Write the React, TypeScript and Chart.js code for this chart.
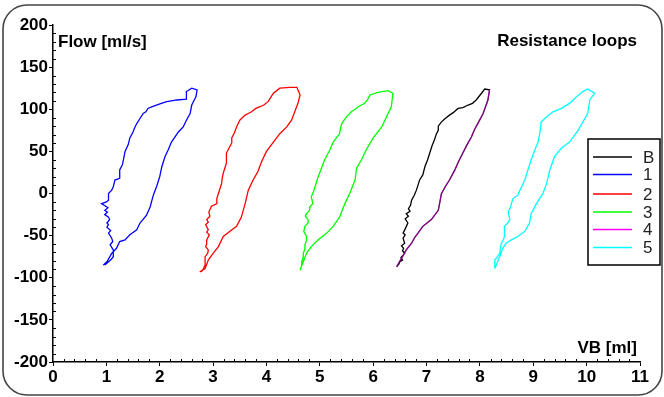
import React, { useEffect, useRef } from "react";
import { Chart, registerables } from "chart.js";

Chart.register(...registerables);

const xTickLabels = ["0", "1", "2", "3", "4", "5", "6", "7", "8", "9", "10", "11"];
const yTickLabels = ["-200", "-150", "-100", "-50", "0", "50", "100", "150", "200"];

const seriesNames = ["B", "1", "2", "3", "4", "5"];
const seriesColors = ["#000000", "#0000ff", "#ff0000", "#00ff00", "#ff00ff", "#00ffff"];

const loopB: [number, number][] = [
  [6.44, -87], [6.48, -84], [6.5, -81], [6.55, -79], [6.52, -76], [6.59, -71], [6.55, -68], [6.57, -65], [6.53, -62],
  [6.59, -59], [6.56, -53], [6.6, -49], [6.56, -47], [6.6, -42], [6.65, -35], [6.6, -30], [6.66, -27], [6.62, -24],
  [6.69, -21], [6.66, -18], [6.7, -14], [6.72, -8], [6.77, -2], [6.81, 4], [6.84, 10], [6.87, 16], [6.93, 22],
  [6.97, 32], [7.02, 40], [7.06, 48], [7.1, 56], [7.15, 64], [7.18, 70], [7.22, 75], [7.22, 80], [7.28, 85],
  [7.35, 89], [7.43, 93], [7.5, 96], [7.59, 101], [7.68, 102], [7.78, 105], [7.86, 107], [7.93, 111],
  [8.03, 119], [8.09, 124], [8.18, 123], [8.15, 111], [8.06, 95], [7.96, 83], [7.9, 76], [7.84, 67],
  [7.76, 58], [7.68, 48], [7.6, 38], [7.53, 28], [7.43, 16], [7.35, 8], [7.28, 0], [7.25, -10], [7.22, -20],
  [7.09, -31], [6.93, -39], [6.84, -47], [6.78, -52], [6.72, -59], [6.62, -67], [6.53, -77], [6.44, -87],
];

const loop1: [number, number][] = [
  [0.97, -85], [1.04, -81], [1.08, -79], [1.13, -75], [1.13, -67], [1.07, -61], [1.12, -57], [1.1, -53], [1.04, -47],
  [1.08, -44], [1.01, -40], [1.04, -37], [1.01, -35], [1.06, -31], [1.04, -28], [0.97, -25], [1.02, -22],
  [0.97, -20], [1.03, -17], [1.01, -16], [0.91, -12], [1.0, -10], [1.04, -8], [1.04, 0], [1.1, 4], [1.13, 8],
  [1.16, 16], [1.25, 18], [1.25, 28], [1.3, 34], [1.32, 40], [1.35, 50], [1.41, 58], [1.44, 66], [1.5, 73],
  [1.53, 78], [1.57, 83], [1.63, 89], [1.69, 95], [1.74, 97], [1.78, 101], [1.86, 103], [1.94, 105],
  [2.03, 107], [2.13, 109], [2.22, 110], [2.32, 111], [2.5, 112], [2.5, 121], [2.6, 125], [2.7, 123],
  [2.68, 115], [2.6, 105], [2.57, 95], [2.5, 87], [2.44, 79], [2.35, 73], [2.22, 61], [2.16, 52], [2.1, 44],
  [2.04, 32], [2.0, 20], [1.94, 8], [1.88, -2], [1.82, -16], [1.75, -26], [1.63, -35], [1.57, -43],
  [1.44, -49], [1.35, -55], [1.25, -57], [1.19, -65], [1.1, -71], [1.01, -81], [0.94, -85],
];

const loop2: [number, number][] = [
  [2.78, -93], [2.82, -89], [2.85, -85], [2.85, -75], [2.9, -71], [2.91, -67], [2.86, -63], [2.88, -60],
  [2.88, -55], [2.93, -49], [2.88, -46], [2.91, -43], [2.86, -37], [2.91, -34], [2.88, -31], [2.94, -27],
  [2.92, -22], [2.97, -15], [3.07, -12], [3.07, -6], [3.1, 0], [3.16, 12], [3.17, 18], [3.19, 24], [3.25, 36],
  [3.25, 48], [3.3, 54], [3.35, 60], [3.35, 66], [3.4, 72], [3.44, 79], [3.5, 87], [3.6, 93], [3.66, 95],
  [3.72, 97], [3.8, 101], [3.88, 103], [3.95, 105], [4.03, 109], [4.08, 114], [4.13, 119], [4.25, 125],
  [4.44, 126], [4.57, 126], [4.63, 117], [4.59, 107], [4.53, 97], [4.47, 87], [4.38, 79], [4.25, 71],
  [4.13, 61], [4.0, 50], [3.91, 38], [3.84, 26], [3.75, 16], [3.66, 4], [3.6, -12], [3.53, -28], [3.44, -39],
  [3.31, -45], [3.19, -51], [3.1, -63], [3.0, -71], [2.91, -79], [2.85, -89], [2.75, -93],
];

const loop3: [number, number][] = [
  [4.63, -91], [4.66, -85], [4.66, -81], [4.69, -76], [4.69, -71], [4.72, -66], [4.72, -61], [4.75, -56],
  [4.75, -51], [4.7, -45], [4.72, -39], [4.78, -35], [4.78, -31], [4.73, -27], [4.75, -24], [4.81, -20],
  [4.81, -16], [4.87, -12], [4.84, -4], [4.88, 2], [4.91, 8], [4.97, 20], [5.03, 30], [5.09, 40], [5.14, 46],
  [5.19, 52], [5.25, 61], [5.31, 66], [5.37, 71], [5.39, 78], [5.41, 83], [5.5, 91], [5.59, 97], [5.66, 100],
  [5.72, 103], [5.84, 107], [5.9, 112], [5.94, 117], [6.09, 120], [6.28, 122], [6.37, 119], [6.34, 103],
  [6.25, 91], [6.16, 79], [6.0, 66], [5.87, 52], [5.78, 40], [5.69, 30], [5.66, 16], [5.56, 0], [5.47, -12],
  [5.37, -28], [5.25, -39], [5.13, -47], [4.97, -55], [4.84, -63], [4.75, -71], [4.69, -81], [4.63, -91],
];

const loop4: [number, number][] = [
  [8.18, 123], [8.15, 111], [8.06, 95], [7.96, 83], [7.9, 76], [7.84, 67], [7.76, 58], [7.68, 48], [7.6, 38],
  [7.53, 28], [7.43, 16], [7.35, 8], [7.28, 0], [7.25, -10], [7.22, -20], [7.09, -31], [6.93, -39],
  [6.84, -47], [6.78, -52], [6.72, -59], [6.62, -67], [6.53, -77], [6.44, -87],
];

const loop5: [number, number][] = [
  [8.28, -89], [8.28, -79], [8.33, -75], [8.37, -71], [8.4, -59], [8.44, -55], [8.46, -51], [8.46, -39],
  [8.52, -35], [8.56, -31], [8.53, -22], [8.57, -17], [8.59, -12], [8.62, -6], [8.71, -2], [8.75, 4],
  [8.8, 10], [8.84, 16], [8.9, 28], [8.96, 40], [9.03, 52], [9.09, 61], [9.12, 71], [9.15, 85], [9.25, 91],
  [9.37, 97], [9.45, 99], [9.53, 101], [9.6, 104], [9.68, 107], [9.75, 111], [9.81, 115], [9.93, 121],
  [10.02, 124], [10.15, 119], [10.06, 111], [10.02, 95], [9.93, 85], [9.84, 75], [9.68, 61], [9.53, 54],
  [9.4, 44], [9.31, 28], [9.25, 12], [9.18, 0], [9.06, -12], [8.96, -24], [8.93, -35], [8.84, -45],
  [8.71, -51], [8.59, -55], [8.49, -59], [8.43, -65], [8.37, -75], [8.28, -89],
];

const loops = [loopB, loop1, loop2, loop3, loop4, loop5];

const FONT = "'Liberation Sans', Arial, sans-serif";

const decorPlugin = {
  id: "decor",
  beforeDraw(chart: any) {
    const ctx = chart.ctx;
    ctx.save();
    ctx.fillStyle = "#ffffff";
    ctx.fillRect(0, 0, chart.width, chart.height);
    ctx.restore();
  },
  afterDraw(chart: any) {
    const ctx = chart.ctx;
    const xs = chart.scales.x;
    const ys = chart.scales.y;
    const area = chart.chartArea;
    ctx.save();
    ctx.strokeStyle = "#000";
    ctx.lineWidth = 1;
    ctx.beginPath();
    for (let v = -200; v <= 200; v += 10) {
      if (v % 50 === 0) continue;
      const p = Math.round(ys.getPixelForValue(v)) + 0.5;
      ctx.moveTo(area.left, p);
      ctx.lineTo(area.left + 3, p);
    }
    for (let i = 0; i <= 55; i++) {
      if (i % 5 === 0) continue;
      const p = Math.round(xs.getPixelForValue(i / 5)) + 0.5;
      ctx.moveTo(p, area.bottom);
      ctx.lineTo(p, area.bottom - 3);
    }
    ctx.stroke();

    ctx.fillStyle = "#000";
    ctx.font = `bold 17px ${FONT}`;
    ctx.textBaseline = "alphabetic";
    ctx.textAlign = "left";
    ctx.fillText("Flow [ml/s]", 58, 47);
    ctx.textAlign = "right";
    ctx.fillText("Resistance loops", 637, 46);
    ctx.fillText("VB [ml]", 637, 353);

    const bx = 588, by = 139, bw = 72, bh = 126;
    ctx.fillStyle = "#fff";
    ctx.fillRect(bx, by, bw, bh);
    ctx.strokeStyle = "#000";
    ctx.lineWidth = 1.5;
    ctx.strokeRect(bx, by, bw, bh);
    const rows = [157, 174.5, 194, 212, 229.5, 247.5];
    ctx.font = `17px ${FONT}`;
    ctx.textAlign = "left";
    ctx.textBaseline = "middle";
    seriesNames.forEach((name, i) => {
      ctx.strokeStyle = seriesColors[i];
      ctx.lineWidth = 1.3;
      ctx.beginPath();
      ctx.moveTo(593, rows[i]);
      ctx.lineTo(632, rows[i]);
      ctx.stroke();
      ctx.fillStyle = "#222";
      ctx.fillText(name, 643, rows[i] + 1);
    });

    ctx.strokeStyle = "#444";
    ctx.lineWidth = 1.6;
    ctx.beginPath();
    (ctx as any).roundRect(3, 5, 659, 390, 24);
    ctx.stroke();
    ctx.restore();
  },
};

export default function App() {
  const ref = useRef<HTMLCanvasElement | null>(null);
  useEffect(() => {
    document.body.style.margin = "0";
    const canvas = ref.current!;
    const chart = new Chart(canvas, {
      type: "scatter",
      data: {
        datasets: loops.map((pts, i) => ({
          label: seriesNames[i],
          data: pts.map(([x, y]) => ({ x, y })),
          showLine: true,
          order: i === 4 ? -1 : i,
          borderColor: i === 4 ? "rgba(255,0,255,0.5)" : seriesColors[i],
          backgroundColor: seriesColors[i],
          borderWidth: 1.3,
          pointRadius: 0,
          tension: 0,
          fill: false,
        })),
      },
      options: {
        responsive: false,
        animation: false,
        devicePixelRatio: 1,
        layout: { padding: { top: 25, right: 24, left: 0, bottom: 0 } },
        plugins: { legend: { display: false }, tooltip: { enabled: false }, title: { display: false } },
        scales: {
          x: {
            type: "linear",
            min: 0,
            max: 11,
            afterFit: (s: any) => { s.height = 35; },
            afterBuildTicks: (s: any) => {
              s.ticks = xTickLabels.map((t) => ({ value: Number(t) }));
            },
            ticks: {
              autoSkip: false,
              maxRotation: 0,
              padding: 1,
              color: "#000",
              font: { family: FONT, size: 17, weight: "bold" },
              callback: (v: any) => String(v),
            },
            grid: { drawOnChartArea: false, drawTicks: true, tickLength: 4, color: "#000", lineWidth: 1 },
            border: { display: true, color: "#000", width: 1.5 },
          },
          y: {
            type: "linear",
            min: -200,
            max: 200,
            afterFit: (s: any) => { s.width = 53; },
            afterBuildTicks: (s: any) => {
              s.ticks = yTickLabels.map((t) => ({ value: Number(t) }));
            },
            ticks: {
              autoSkip: false,
              padding: 1,
              color: "#000",
              font: { family: FONT, size: 17, weight: "bold" },
              callback: (v: any) => String(v),
            },
            grid: { drawOnChartArea: false, drawTicks: true, tickLength: 4, color: "#000", lineWidth: 1 },
            border: { display: true, color: "#000", width: 1.5 },
          },
        },
      },
      plugins: [decorPlugin],
    } as any);
    return () => chart.destroy();
  }, []);
  return (
    <div style={{ width: 664, height: 397 }}>
      <canvas ref={ref} width={664} height={397} style={{ display: "block" }} />
    </div>
  );
}
